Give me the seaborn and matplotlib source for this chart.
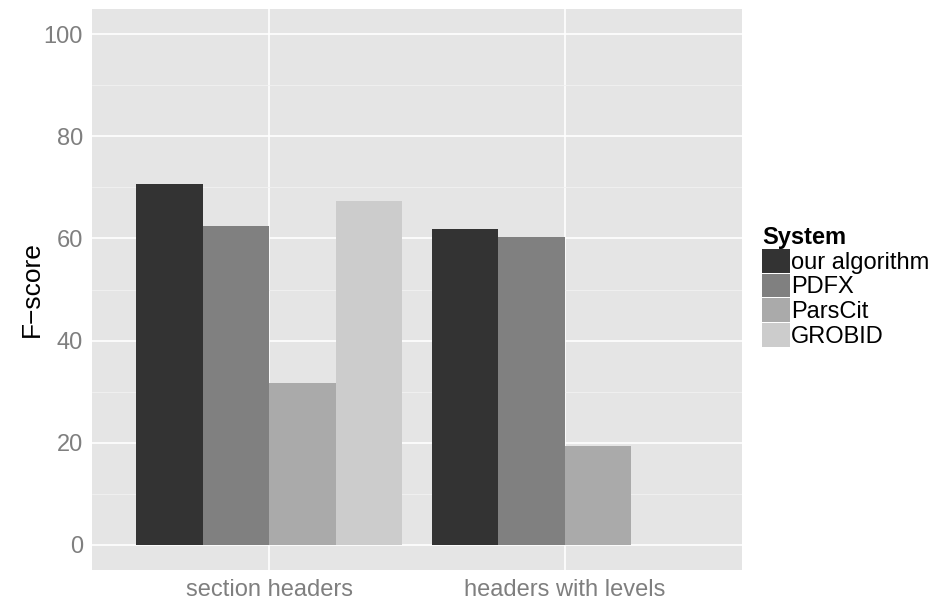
import matplotlib
matplotlib.use("Agg")
import matplotlib.pyplot as plt
import seaborn as sns
import pandas as pd
from matplotlib.ticker import MultipleLocator

tasks = ["section headers", "headers with levels"]
systems = ["our algorithm", "PDFX", "ParsCit", "GROBID"]
our_algorithm = [70.7, 61.9]
pdfx = [62.5, 60.3]
parscit = [31.6, 19.4]
grobid = [67.3, 0.0]
colors = ["#333333", "#808080", "#AAAAAA", "#CCCCCC"]

rows = []
for s, vals in zip(systems, [our_algorithm, pdfx, parscit, grobid]):
    for t, v in zip(tasks, vals):
        rows.append({"Task": t, "System": s, "F-score": v})
df = pd.DataFrame(rows)

sns.set_theme(style="whitegrid")
plt.rcParams["font.family"] = ["Liberation Sans", "DejaVu Sans"]
plt.rcParams["text.color"] = "black"

fig = plt.figure(figsize=(9.35, 6.0), dpi=100)
ax = fig.add_axes([92/935, 1-570/600, (742-92)/935, (570-9)/600])

sns.barplot(data=df, x="Task", y="F-score", hue="System", order=tasks,
            hue_order=systems, palette=colors, saturation=1, width=0.9,
            errorbar=None, ax=ax, linewidth=0, zorder=3)

ax.set_facecolor("#E5E5E5")
for s in ax.spines.values():
    s.set_visible(False)
ax.set_xlim(-0.6, 1.6)
ax.set_ylim(-5, 105)
ax.yaxis.set_major_locator(MultipleLocator(20))
ax.yaxis.set_minor_locator(MultipleLocator(10))
ax.grid(False)
ax.set_axisbelow(True)
ax.grid(which="major", axis="both", color="white", linewidth=1.2, zorder=0)
ax.grid(which="minor", axis="y", color="#F2F2F2", linewidth=0.6, zorder=0)
ax.tick_params(axis="both", which="major", length=4.5, width=0.8, color="#7F7F7F",
               labelcolor="#7F7F7F", labelsize=17, pad=2)
ax.tick_params(axis="y", which="minor", length=0)
ax.set_xlabel("")
ax.set_ylabel("F\u2212score", fontsize=19, color="black", labelpad=0)

leg = ax.legend(title="System", loc="center left", bbox_to_anchor=(762/935, 1-287/600),
                bbox_transform=fig.transFigure, frameon=False, fontsize=17,
                title_fontproperties={"weight": "bold", "size": 17},
                handlelength=1.19, handleheight=1.17, labelspacing=0,
                handletextpad=0.05, borderpad=0, borderaxespad=0)
leg._legend_box.align = "left"
leg.get_title().set_color("black")
for t in leg.get_texts():
    t.set_color("black")

fig.savefig("out.png", dpi=100, facecolor="white")
